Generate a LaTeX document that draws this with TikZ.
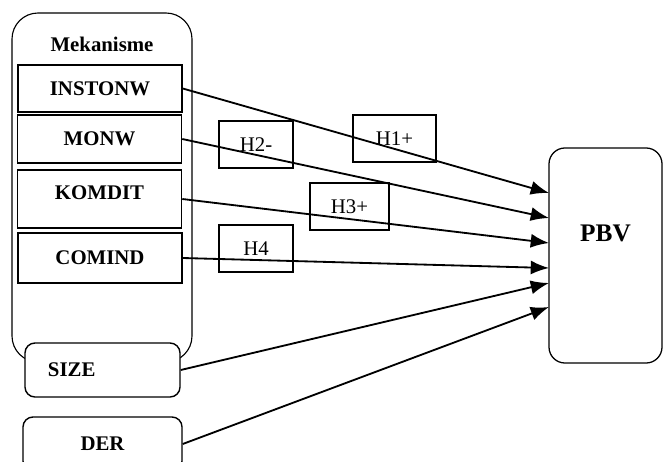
\documentclass[tikz,border=0pt]{standalone}
\usepackage{fontspec}
\setmainfont{Liberation Serif}
\usetikzlibrary{positioning}
\usetikzlibrary{arrows.meta}
\tikzset{
	every node/.style = {font=\fontsize{14.8}{17}\selectfont},
	var/.style = {draw, line width=1.1pt, fill=white, minimum width=4.1cm, font=\fontsize{14.8}{17}\selectfont\bfseries},
	ctrl/.style = {draw, line width=1pt, fill=white, rounded corners=0.25cm, minimum height=1.35cm, font=\fontsize{14.8}{17}\selectfont\bfseries},
	hyp/.style = {draw, line width=1.1pt, minimum height=1.18cm},
	link/.style = {-{Latex[length=13pt,width=10pt]}, line width=1.3pt}
}
\begin{document}
\begin{tikzpicture}[x=0.025cm, y=-0.025cm]
		\useasboundingbox (0,0) rectangle (663,461);
		% mechanism group
		\draw[line width=0.8pt, rounded corners=0.65cm] (12,13) rectangle (192,362);
		\node (mek) at (102,44) {\bfseries Mekanisme};
		
		\node[var, minimum height=1.175cm] (instonw) at (100,88.5) {INSTONW};
		\node[var, minimum height=1.2cm] (monw) at (99.5,139) {MONW};
		\node[var, minimum height=1.45cm, text depth=0.3cm] (komdit) at (99.5,199) {KOMDIT};
		\node[var, minimum height=1.25cm] (comind) at (100,258) {COMIND};
		
		% control variables
		\node[ctrl, minimum width=3.875cm, inner xsep=0.575cm, text width=2.725cm, align=left] (size) at (102.5,370) {SIZE};
		\node[ctrl, minimum width=3.975cm] (der) at (102.5,444) {DER};
		
		% dependent variable
		\node[draw, line width=0.9pt, rounded corners=0.4cm, minimum width=2.825cm, minimum height=5.375cm, text depth=1.1cm, font=\fontsize{18}{20}\selectfont\bfseries] (pbv) at (605.5,255.5) {PBV};
		
		% hypotheses
		\node[hyp, minimum width=2.075cm] (h1) at (394.5,138.5) {H1+};
		\node[hyp, minimum width=1.85cm] (h2) at (256,144.5) {H2-};
		\node[hyp, minimum width=1.975cm] (h3) at (349.5,206.5) {H3+};
		\node[hyp, minimum width=1.85cm] (h4) at (256,248.5) {H4};
		
		% arrows into PBV
		\foreach \n/\y in {1/193, 2/218, 3/243, 4/268, 5/283, 6/307}
			\coordinate (in\n) at (549,\y);
		\foreach \from/\to in {instonw/in1, monw/in2, komdit/in3, comind/in4, size/in5, der/in6}
			\draw[link] (\from.east) -- (\to);
	\end{tikzpicture}
\end{document}
